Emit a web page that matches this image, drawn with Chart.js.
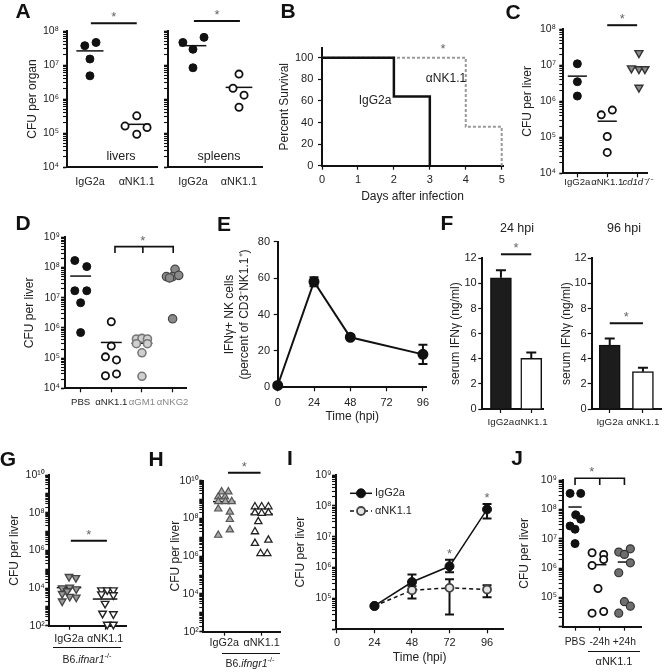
<!DOCTYPE html>
<html>
<head>
<meta charset="utf-8">
<script src="https://cdn.jsdelivr.net/npm/chart.js@4.4.1/dist/chart.umd.min.js"></script>
<style>
  body { margin: 0; background: #fff; }
  #fig { position: relative; width: 670px; height: 672px; overflow: hidden; font-family: "Liberation Sans", Arial, sans-serif; color: #222; }
  #fig canvas { position: absolute; }
  .lbl { position: absolute; transform: translate(-50%, -50%); white-space: nowrap; font-size: 12px; }
  .pl { position: absolute; transform: translate(-50%, -50%); font-weight: bold; font-size: 21px; color: #111; }
  .grp { position: absolute; border-top: 1.3px solid #111; height: 0; }
  sup { font-size: 70%; }
</style>
</head>
<body>
<div id="fig"></div>
<script>
// ===== Data =====
// A: CFU per organ, livers / spleens
const aCats = ['IgG2a', 'αNK1.1'];
const aLiverIgG = [3.7e7, 4.6e7, 1.5e7, 4.8e6];
const aLiverIgGDx = [-0.11, 0.13, 0, 0];
const aLiverNK = [1.6e5, 3.2e5, 9.2e4, 1.45e5];
const aLiverNKDx = [-0.25, 0, 0, 0.22];
const aLiverMed = [2.6e7, 1.8e5];
const aSpleenIgG = [4.6e7, 2.9e7, 6.5e7, 8.3e6];
const aSpleenIgGDx = [-0.22, 0, 0.24, 0];
const aSpleenNK = [5.4e6, 2.07e6, 1.3e6, 5.7e5];
const aSpleenNKDx = [0, -0.13, 0.11, 0];
const aSpleenMed = [3.7e7, 2.2e6];
const aExps = [4, 5, 6, 7, 8];

// B: survival
const bDayTicks = [0, 1, 2, 3, 4, 5];
const bPctTicks = [0, 20, 40, 60, 80, 100];
const bIgGDays = [0, 2, 3];
const bIgG = [100, 64, 0];
const bNKDays = [0, 4, 5];
const bNK = [100, 36, 0];

// C
const cCats = ['IgG2a', 'αNK1.1', 'cd1d⁻/⁻'];
const cIgG = [1.1e7, 3.5e6, 1.4e6];
const cNK = [4.2e5, 5.7e5, 1.05e5, 3.8e4];
const cNKDx = [-0.2, 0.17, 0, 0];
const cKO = [2.2e7, 8.3e6, 7.9e6, 7.9e6, 2.4e6];
const cKODx = [0.06, -0.19, 0.06, 0.26, 0.06];
const cMed = [5e6, 2.8e5, null];
const cExps = [4, 5, 6, 7, 8];

// D
const dCats = ['PBS', 'αNK1.1', 'αGM1', 'αNKG2'];
const dPBS = [1.7e8, 1.07e8, 1.7e7, 1.7e7, 6.8e6, 7e5];
const dPBSDx = [-0.19, 0.2, -0.19, 0.2, 0, 0];
const dNK = [1.6e6, 2.5e5, 1.1e5, 8.7e4, 2.6e4, 3e4];
const dNKDx = [0, 0, -0.19, 0.17, -0.19, 0.17];
const dGM1 = [4.3e5, 4.5e5, 4.3e5, 3e5, 3e5, 1.5e5, 2.5e4];
const dGM1Dx = [-0.18, 0, 0.18, -0.18, 0.18, 0, 0];
const dNKG2 = [8.7e7, 5e7, 5e7, 5.5e7, 4.5e7, 2e6];
const dNKG2Dx = [0.08, -0.2, 0, 0.2, -0.1, 0];
const dMed = [5.2e7, 3.3e5, 3.1e5, 5e7];
const dExps = [4, 5, 6, 7, 8, 9];

// E: IFNg+ NK cells over time
const eTimes = [0, 24, 48, 96];
const eVals = [1, 58, 27.5, 18.1];
const eErr = [0, 2.5, 1.1, 5.3];
const eXTicks = [0, 24, 48, 72, 96];
const eYTicks = [0, 20, 40, 60, 80];

// F: serum IFNg
const fCats = ['IgG2a', 'αNK1.1'];
const f24 = [10.45, 4.03];
const f24Err = [0.6, 0.47];
const f96 = [5.09, 2.97];
const f96Err = [0.53, 0.32];
const fYTicks = [0, 2, 4, 6, 8, 10, 12];

// G: B6.ifnar1-/-
const gCats = ['IgG2a', 'αNK1.1'];
const gIgG = [4e4, 3.5e4, 1e4, 1.1e4, 8.9e3, 5e3, 3.5e3, 3.2e3, 2e3, 7e3];
const gIgGDx = [0, 0.19, -0.19, 0.02, 0.2, -0.19, 0.02, 0.2, -0.19, -0.05];
const gNK = [7.8e3, 7.8e3, 7.8e3, 4.8e3, 4.3e3, 1.5e3, 450, 420, 117, 117];
const gNKDx = [-0.1, 0.06, 0.23, -0.1, 0.23, 0, -0.07, 0.23, 0.06, 0.23];
const gMed = [1.05e4, 2.6e3];
const gExps = [2, 4, 6, 8, 10];

// H: B6.ifngr1-/-
const hIgG = [2.6e9, 2.6e9, 1.4e9, 1.4e9, 7.9e8, 7.9e8, 7.9e8, 3.2e8, 2.2e8, 8.9e7, 1.3e7, 2.5e7];
const hIgGDx = [-0.07, 0.11, -0.16, 0.02, -0.16, 0.03, 0.2, -0.16, 0.15, 0.15, -0.16, 0.15];
const hNK = [4.2e8, 4.2e8, 4.2e8, 2e8, 2e8, 1.9e8, 6.8e7, 2e7, 7.2e6, 4.8e6, 1.4e6, 1.4e6];
const hNKDx = [-0.18, 0, 0.18, -0.18, 0.18, 0, -0.09, -0.18, 0.18, -0.18, -0.03, 0.15];
const hMed = [7.8e8, 1.7e8];

// I: CFU over time
const iTimes = [24, 48, 72, 96];
const iIgG = [5.7e4, 3.4e5, 1.1e6, 7.7e7];
const iIgGLo = [null, 2e5, 7e5, 3.9e7];
const iIgGHi = [null, 6e5, 1.8e6, 1.15e8];
const iNK = [5.7e4, 1.85e5, 2.2e5, 1.95e5];
const iNKLo = [null, 1e5, 3e4, 1.1e5];
const iNKHi = [null, 2.5e5, 4.2e5, 2.7e5];
const iXTicks = [0, 24, 48, 72, 96];
const iExps = [5, 6, 7, 8, 9];

// J
const jCats = ['PBS', '-24h', '+24h'];
const jPBS = [3.5e8, 3.5e8, 6.5e7, 4.6e7, 2.7e7, 2.1e7, 6.8e6];
const jPBSDx = [-0.2, 0.23, 0.03, 0.23, -0.2, 0, 0];
const jPre = [3.3e6, 2.9e6, 1.95e6, 1.23e6, 2e5, 2.9e4, 3.3e4];
const jPreDx = [-0.31, 0.16, 0.16, -0.31, -0.07, -0.31, 0.16];
const jPost = [3.5e6, 2.9e6, 4.5e6, 1.5e6, 6.9e5, 7.1e4, 5e4, 2.9e4];
const jPostDx = [-0.23, 0, 0.24, 0.24, -0.23, 0, 0.24, -0.23];
const jMed = [1.2e8, 1.3e6, 1.6e6];
const jExps = [5, 6, 7, 8, 9];

// ===== Helpers =====
const FONT = '"Liberation Sans", Arial, sans-serif';
Chart.defaults.font.family = FONT;
Chart.defaults.font.size = 10.8;
Chart.defaults.color = '#222';

const SUP = '⁰¹²³⁴⁵⁶⁷⁸⁹';
const sup = n => String(n).split('').map(d => SUP[+d]).join('');
const isPow10 = v => Math.abs(Math.log10(v) - Math.round(Math.log10(v))) < 1e-6;
const fig = document.getElementById('fig');

function logTicks(lo, hi) {
    const t = [];
    for (let e = lo; e < hi; e++) for (let m = 1; m < 10; m++) t.push({ value: m * Math.pow(10, e) });
    t.push({ value: Math.pow(10, hi) });
    return t;
}
function logY(lo, hi, exps) {
    return {
        type: 'logarithmic', min: Math.pow(10, lo), max: Math.pow(10, hi),
        afterBuildTicks: s => { s.ticks = logTicks(lo, hi); },
        grid: { tickWidth: c => (c.tick && isPow10(c.tick.value)) ? 1.6 : 1.1 },
        ticks: { font: { size: 10.5 }, callback: v => (isPow10(v) && exps.includes(Math.round(Math.log10(v)))) ? '10' + sup(Math.round(Math.log10(v))) : '' }
    };
}
function catX(cats, min, max, tickOpts) {
    return {
        type: 'linear', min, max, offset: false,
        afterBuildTicks: s => { s.ticks = cats.map((c, i) => ({ value: i + 1 })); },
        ticks: Object.assign({ callback: (v, i) => cats[i] }, tickOpts)
    };
}
function linAxis(vals, min, max) {
    return {
        type: 'linear', min, max, offset: false,
        afterBuildTicks: s => { s.ticks = vals.map(v => ({ value: v })); },
        ticks: { font: { size: 11 }, callback: v => String(v) }
    };
}
const pts = (vals, cat, dx) => vals.map((v, i) => ({ x: cat + (dx ? dx[i] : 0), y: v }));
const BLACK = { pointBackgroundColor: '#111', pointBorderColor: '#111', pointBorderWidth: 1, pointRadius: 4 };
const OPEN = { pointBackgroundColor: '#fff', pointBorderColor: '#111', pointBorderWidth: 1.8, pointRadius: 3.6 };
const dot = (data, style, extra) => Object.assign({ data, clip: false }, style, extra);

function star(ctx, x, y) {
    ctx.save();
    ctx.fillStyle = '#666'; ctx.font = '13px ' + FONT;
    ctx.textAlign = 'center'; ctx.textBaseline = 'alphabetic';
    ctx.fillText('*', x, y - 2);
    ctx.restore();
}

// medians, error bars, significance bars, stars and legend
const EXTRAS = {};
const extras = {
    id: 'extras',
    beforeDatasetsDraw(chart) {
        const ex = EXTRAS[chart.canvas.id]; if (!ex) return;
        const { ctx } = chart, xs = chart.scales.x, ys = chart.scales.y;
        ctx.save();
        ctx.strokeStyle = '#111';
        (ex.medians || []).forEach((m, i) => {
            if (m == null) return;
            const py = ys.getPixelForValue(m);
            ctx.lineWidth = 1.5;
            ctx.beginPath();
            ctx.moveTo(xs.getPixelForValue(i + 1 - ex.medW), py);
            ctx.lineTo(xs.getPixelForValue(i + 1 + ex.medW), py);
            ctx.stroke();
        });
        (ex.errs || []).forEach(e => {
            e.x.forEach((xv, i) => {
                if (e.lo[i] == null) return;
                const px = xs.getPixelForValue(xv), p0 = ys.getPixelForValue(e.lo[i]), p1 = ys.getPixelForValue(e.hi[i]);
                ctx.lineWidth = 2;
                ctx.beginPath();
                ctx.moveTo(px, p0); ctx.lineTo(px, p1);
                ctx.moveTo(px - e.cap, p1); ctx.lineTo(px + e.cap, p1);
                if (!e.topOnly) { ctx.moveTo(px - e.cap, p0); ctx.lineTo(px + e.cap, p0); }
                ctx.stroke();
            });
        });
        ctx.restore();
    },
    afterDatasetsDraw(chart) {
        const ex = EXTRAS[chart.canvas.id]; if (!ex) return;
        const { ctx } = chart, xs = chart.scales.x, ys = chart.scales.y;
        ctx.save();
        ctx.strokeStyle = '#111'; ctx.lineWidth = 2;
        (ex.sig || []).forEach(s => {
            const py = ys.getPixelForValue(s.y), pa = xs.getPixelForValue(s.a), pb = xs.getPixelForValue(s.b);
            ctx.beginPath(); ctx.moveTo(pa, py); ctx.lineTo(pb, py); ctx.stroke();
            star(ctx, (pa + pb) / 2, py);
        });
        if (ex.bracket) {
            const k = ex.bracket, py = ys.getPixelForValue(k.y), py2 = ys.getPixelForValue(k.y2);
            const [pa, pm, pb] = [k.a, k.m, k.b].map(v => xs.getPixelForValue(v));
            ctx.lineWidth = 1.6;
            ctx.beginPath();
            ctx.moveTo(pa, py2); ctx.lineTo(pa, py); ctx.lineTo(pb, py); ctx.lineTo(pb, py2);
            ctx.moveTo(pm, py); ctx.lineTo(pm, py2);
            ctx.stroke();
            star(ctx, xs.getPixelForValue(k.sx), py);
        }
        (ex.stars || []).forEach(s => star(ctx, xs.getPixelForValue(s.x), ys.getPixelForValue(s.y)));
        if (ex.legend) {
            const L = ex.legend, ox = ex.box[0], oy = ex.box[1];
            L.rows.forEach((row, k) => {
                const ds = chart.data.datasets[k], x0 = L.x - ox, y0 = row - oy;
                ctx.setLineDash(ds.borderDash || []);
                ctx.lineWidth = ds.borderWidth; ctx.strokeStyle = ds.borderColor;
                ctx.beginPath(); ctx.moveTo(x0, y0); ctx.lineTo(x0 + 22, y0); ctx.stroke();
                ctx.setLineDash([]);
                ctx.beginPath(); ctx.arc(x0 + 11, y0, ds.pointRadius, 0, Math.PI * 2);
                ctx.fillStyle = ds.pointBackgroundColor; ctx.fill();
                ctx.lineWidth = ds.pointBorderWidth; ctx.strokeStyle = ds.pointBorderColor; ctx.stroke();
                ctx.fillStyle = '#222'; ctx.font = '11px ' + FONT;
                ctx.textBaseline = 'middle'; ctx.textAlign = 'left';
                ctx.fillText(ds.label, x0 + 25, y0);
            });
        }
        ctx.restore();
    }
};

// one chart per canvas; box = canvas in page px, area = plot area in page px
function mk(s) {
    const [x0, y0, x1, y1] = s.box, [l, t, r, b] = s.area;
    const cv = document.createElement('canvas');
    cv.id = s.id; cv.width = x1 - x0; cv.height = y1 - y0;
    cv.style.left = x0 + 'px'; cv.style.top = y0 + 'px';
    fig.appendChild(cv);
    EXTRAS[s.id] = Object.assign({ box: s.box }, s.ex);
    const tly = 4, tlx = s.xTicks === false ? 0 : 4;

    const y = Object.assign({}, s.y, {
        border: { color: '#111', width: 2 },
        grid: Object.assign({ drawOnChartArea: false, drawTicks: true, tickLength: tly, color: '#111', tickWidth: 1.2 }, s.y.grid),
        ticks: Object.assign({ autoSkip: false, padding: s.ylabR ? Math.max(0.5, l - tly - s.ylabR) : 3 }, s.y.ticks),
        title: s.ytitle ? { display: true, text: s.ytitle, color: '#222', font: { size: 12 }, padding: { top: s.ytitleX - x0 - 7.2, bottom: 0 } } : { display: false },
        afterFit: sc => { sc.width = l - x0; }
    });
    const x = Object.assign({}, s.x, {
        border: { color: '#111', width: 2 },
        grid: Object.assign({ display: tlx > 0, drawOnChartArea: false, drawTicks: tlx > 0, tickLength: tlx, color: '#111', tickWidth: 1.2, offset: false }, s.x.grid),
        ticks: Object.assign({ autoSkip: false, maxRotation: 0, minRotation: 0, padding: s.xlabY - b - tlx - 6.5 }, s.x.ticks),
        title: s.xtitle ? { display: true, text: s.xtitle, color: '#222', font: { size: 12 }, padding: { top: 0, bottom: y1 - s.xtitleY - 7.2 } } : { display: false },
        afterFit: sc => { sc.height = y1 - b; }
    });
    return new Chart(cv, {
        type: s.type || 'scatter',
        data: { datasets: s.datasets },
        options: {
            responsive: false, animation: false, devicePixelRatio: 1,
            layout: { padding: { left: 0, top: t - y0, right: x1 - r, bottom: 0 } },
            plugins: { legend: { display: false }, tooltip: { enabled: false } },
            scales: { x, y }
        },
        plugins: [extras]
    });
}

// ===== Panel A =====
mk({
    id: 'aLiver', box: [0, 0, 165, 200], area: [67, 31, 158, 167],
    y: logY(4, 8, aExps), ytitle: 'CFU per organ', ytitleX: 33, ylabR: 59,
    x: catX(aCats, 0.51, 2.45), xTicks: false, xlabY: 182,
    datasets: [dot(pts(aLiverIgG, 1, aLiverIgGDx), BLACK), dot(pts(aLiverNK, 2, aLiverNKDx), OPEN)],
    ex: { medians: aLiverMed, medW: 0.29, sig: [{ a: 1.02, b: 2, y: 1.7e8 }] }
});
mk({
    id: 'aSpleen', box: [160, 0, 270, 200], area: [168, 31, 262, 167],
    y: logY(4, 8, []),
    x: catX(aCats, 0.457, 2.5), xTicks: false, xlabY: 182,
    datasets: [dot(pts(aSpleenIgG, 1, aSpleenIgGDx), BLACK), dot(pts(aSpleenNK, 2, aSpleenNKDx), OPEN)],
    ex: { medians: aSpleenMed, medW: 0.29, sig: [{ a: 1.02, b: 2.02, y: 1.96e8 }] }
});

// ===== Panel B =====
mk({
    id: 'b', type: 'line', box: [270, 30, 520, 210], area: [322, 47.7, 503, 165.7],
    y: linAxis(bPctTicks, 0, 109.3), ytitle: 'Percent Survival', ytitleX: 285, ylabR: 313.3,
    x: linAxis(bDayTicks, 0, 5.036), xlabY: 180, xtitle: 'Days after infection', xtitleY: 196.7,
    datasets: [
        { data: bIgGDays.map((d, i) => ({ x: d, y: bIgG[i] })), stepped: 'before', borderColor: '#111', borderWidth: 2.5, pointRadius: 0, clip: false },
        { data: bNKDays.map((d, i) => ({ x: d, y: bNK[i] })), stepped: 'before', borderColor: '#9a9a9a', borderWidth: 2, borderDash: [3, 2], pointRadius: 0, clip: false }
    ]
});

// ===== Panel C =====
mk({
    id: 'c', box: [515, 0, 670, 200], area: [563.3, 29.3, 647, 173.3],
    y: logY(4, 8, cExps), ytitle: 'CFU per liver', ytitleX: 528, ylabR: 556,
    x: catX(cCats, 0.53, 3.33, { font: c => ({ size: 9.6, style: c.index === 2 ? 'italic' : 'normal' }) }), xlabY: 182.7,
    datasets: [
        dot(pts(cIgG, 1), BLACK),
        dot(pts(cNK, 2, cNKDx), OPEN),
        dot(pts(cKO, 3, cKODx), { pointStyle: 'triangle', pointRotation: 180, pointRadius: 4.6, pointBackgroundColor: '#8c8c8c', pointBorderColor: '#333', pointBorderWidth: 1.4 })
    ],
    ex: { medians: cMed, medW: 0.32, sig: [{ a: 2, b: 3, y: 1.3e8 }] }
});

// ===== Panel D =====
const dLabelColors = ['#222', '#222', '#888', '#888'];
mk({
    id: 'd', box: [0, 215, 200, 420], area: [65, 237.3, 186.7, 388.3],
    y: logY(4, 9, dExps), ytitle: 'CFU per liver', ytitleX: 30, ylabR: 60,
    x: catX(dCats, 0.49, 4.46, { font: { size: 9.6 }, color: c => dLabelColors[c.index] }), xlabY: 402.7,
    datasets: [
        dot(pts(dPBS, 1, dPBSDx), BLACK),
        dot(pts(dNK, 2, dNKDx), OPEN),
        dot(pts(dGM1, 3, dGM1Dx), { pointRadius: 4, pointBackgroundColor: '#cfcfcf', pointBorderColor: '#777', pointBorderWidth: 1.6 }),
        dot(pts(dNKG2, 4, dNKG2Dx), { pointRadius: 4.2, pointBackgroundColor: '#8a8a8a', pointBorderColor: '#444', pointBorderWidth: 1.2 })
    ],
    ex: { medians: dMed, medW: 0.34, bracket: { a: 2.12, m: 3.03, b: 4.02, y: 4.9e8, y2: 3e8, sx: 3.03 } }
});

// ===== Panel E =====
mk({
    id: 'e', type: 'line', box: [220, 215, 440, 430], area: [277.7, 241.7, 426.7, 387.3],
    y: linAxis(eYTicks, 0, 80), ytitle: ['IFNγ+ NK cells', '(percent of CD3⁻NK1.1⁺)'], ytitleX: 230, ylabR: 270,
    x: linAxis(eXTicks, 0, 98.5), xlabY: 402.7, xtitle: 'Time (hpi)', xtitleY: 416.7,
    datasets: [{ data: eTimes.map((t, i) => ({ x: t, y: eVals[i] })), borderColor: '#111', borderWidth: 2, pointRadius: 4.5, pointBackgroundColor: '#111', pointBorderColor: '#111', clip: false }],
    ex: { errs: [{ x: eTimes, lo: eVals.map((v, i) => eErr[i] ? v - eErr[i] : null), hi: eVals.map((v, i) => v + eErr[i]), cap: 4.5 }] }
});

// ===== Panel F =====
const fBarStyle = { backgroundColor: ['#1c1c1c', '#ffffff'], borderColor: '#111', borderWidth: 1.5, barThickness: 21 };
mk({
    id: 'f1', type: 'bar', box: [440, 215, 552, 430], area: [482.3, 258.3, 546.7, 409],
    y: linAxis(fYTicks, 0, 12), ytitle: 'serum IFNγ (ng/ml)', ytitleX: 455.7, ylabR: 476.7,
    x: catX(fCats, 0.386, 2.42, { font: { size: 9.8 } }), xlabY: 422.7,
    datasets: [Object.assign({ data: f24.map((v, i) => ({ x: i + 1, y: v })) }, fBarStyle)],
    ex: { errs: [{ x: [1, 2], lo: f24, hi: f24.map((v, i) => v + f24Err[i]), cap: 5, topOnly: true }], sig: [{ a: 1, b: 2, y: 12.32 }] }
});
mk({
    id: 'f2', type: 'bar', box: [552, 215, 670, 430], area: [591.7, 258.3, 661.7, 409],
    y: linAxis(fYTicks, 0, 12), ytitle: 'serum IFNγ (ng/ml)', ytitleX: 566.7, ylabR: 586.7,
    x: catX(fCats, 0.457, 2.565, { font: { size: 9.8 } }), xlabY: 422.7,
    datasets: [Object.assign({ data: f96.map((v, i) => ({ x: i + 1, y: v })) }, fBarStyle)],
    ex: { errs: [{ x: [1, 2], lo: f96, hi: f96.map((v, i) => v + f96Err[i]), cap: 5, topOnly: true }], sig: [{ a: 1, b: 2, y: 6.82 }] }
});

// ===== Panel G =====
const TRI_DOWN_GRAY = { pointStyle: 'triangle', pointRotation: 180, pointRadius: 4.4, pointBackgroundColor: '#9a9a9a', pointBorderColor: '#444', pointBorderWidth: 1.3 };
const TRI_DOWN_OPEN = { pointStyle: 'triangle', pointRotation: 180, pointRadius: 4.4, pointBackgroundColor: '#fff', pointBorderColor: '#222', pointBorderWidth: 1.4 };
mk({
    id: 'g', box: [0, 460, 140, 672], area: [49.3, 475, 126, 625.7],
    y: logY(2, 10, gExps), ytitle: 'CFU per liver', ytitleX: 15, ylabR: 45,
    x: catX(gCats, 0.453, 2.58), xlabY: 639.3,
    datasets: [dot(pts(gIgG, 1, gIgGDx), TRI_DOWN_GRAY), dot(pts(gNK, 2, gNKDx), TRI_DOWN_OPEN)],
    ex: { medians: gMed, medW: 0.34, sig: [{ a: 1.05, b: 2.05, y: 3.2e6 }] }
});

// ===== Panel H =====
mk({
    id: 'h', box: [160, 460, 290, 672], area: [203.3, 480.7, 280, 631.7],
    y: logY(2, 10, gExps), ytitle: 'CFU per liver', ytitleX: 176, ylabR: 200,
    x: catX(gCats, 0.44, 2.49), xlabY: 643.3,
    datasets: [
        dot(pts(hIgG, 1, hIgGDx), { pointStyle: 'triangle', pointRadius: 4.2, pointBackgroundColor: '#a8a8a8', pointBorderColor: '#555', pointBorderWidth: 1.2 }),
        dot(pts(hNK, 2, hNKDx), { pointStyle: 'triangle', pointRadius: 4.2, pointBackgroundColor: '#fff', pointBorderColor: '#222', pointBorderWidth: 1.3 })
    ],
    ex: { medians: hMed, medW: 0.3, sig: [{ a: 1.1, b: 1.97, y: 2.6e10 }] }
});

// ===== Panel I =====
mk({
    id: 'i', type: 'line', box: [290, 460, 515, 672], area: [336, 475, 503.3, 629.3],
    y: logY(4, 9, iExps), ytitle: 'CFU per liver', ytitleX: 301, ylabR: 333,
    x: linAxis(iXTicks, -0.6, 106.4), xlabY: 642.7, xtitle: 'Time (hpi)', xtitleY: 657.3,
    datasets: [
        { label: 'IgG2a', data: iTimes.map((t, i) => ({ x: t, y: iIgG[i] })), borderColor: '#111', borderWidth: 1.5, pointRadius: 4.5, pointBackgroundColor: '#111', pointBorderColor: '#111', pointBorderWidth: 1, clip: false },
        { label: 'αNK1.1', data: iTimes.map((t, i) => ({ x: t, y: iNK[i] })), borderColor: '#111', borderWidth: 1.5, borderDash: [4, 3], pointRadius: 4, pointBackgroundColor: '#e4e4e4', pointBorderColor: '#444', pointBorderWidth: 1.8, clip: false }
    ],
    ex: {
        errs: [
            { x: iTimes, lo: iIgGLo, hi: iIgGHi, cap: 4.5 },
            { x: iTimes, lo: iNKLo, hi: iNKHi, cap: 4.5 }
        ],
        stars: [{ x: 72, y: 1.8e6 }, { x: 96, y: 1.15e8 }],
        legend: { x: 350, rows: [493.3, 511] }
    }
});

// ===== Panel J =====
mk({
    id: 'j', box: [515, 460, 670, 672], area: [562.7, 480, 641.7, 626.7],
    y: logY(4, 9, jExps), ytitle: 'CFU per liver', ytitleX: 525, ylabR: 557,
    x: catX(jCats, 0.5, 3.7, { font: { size: 10.3 } }), xlabY: 642.7,
    datasets: [
        dot(pts(jPBS, 1, jPBSDx), BLACK),
        dot(pts(jPre, 2, jPreDx), OPEN),
        dot(pts(jPost, 3, jPostDx), { pointRadius: 4, pointBackgroundColor: '#6e6e6e', pointBorderColor: '#333', pointBorderWidth: 1.2 })
    ],
    ex: { medians: jMed, medW: 0.27, bracket: { a: 1, m: 2, b: 3, y: 1.15e9, y2: 6.8e8, sx: 1.68 } }
});

// ===== Text overlays =====
function txt(html, x, y, style) {
    const d = document.createElement('div');
    d.className = 'lbl'; d.innerHTML = html;
    d.style.left = x + 'px'; d.style.top = y + 'px';
    if (style) d.style.cssText += style;
    fig.appendChild(d);
}
function letter(t, x, y) {
    const d = document.createElement('div');
    d.className = 'pl'; d.textContent = t;
    d.style.left = x + 'px'; d.style.top = y + 'px';
    fig.appendChild(d);
}
function groupLine(x0, x1, y) {
    const d = document.createElement('div');
    d.className = 'grp';
    d.style.left = x0 + 'px'; d.style.top = y + 'px'; d.style.width = (x1 - x0) + 'px';
    fig.appendChild(d);
}

[['A', 23, 11], ['B', 288, 11], ['C', 513, 12], ['D', 23, 223], ['E', 224, 224], ['F', 447, 223],
 ['G', 8, 459], ['H', 156, 459], ['I', 290, 458], ['J', 517, 458]].forEach(p => letter(...p));

txt('livers', 121, 156, 'font-size:12.5px');
txt('spleens', 219, 156, 'font-size:12.5px');
txt('*', 443, 48, 'font-size:13px;color:#666');
txt('αNK1.1', 446, 78);
txt('IgG2a', 375, 100);
txt('24 hpi', 517, 228, 'font-size:12.5px');
txt('96 hpi', 624, 228, 'font-size:12.5px');

groupLine(53, 121, 647);
txt('B6.<i>ifnar1</i><sup>-/-</sup>', 87, 658, 'font-size:10.5px');
groupLine(222, 280, 652.5);
txt('B6.<i>ifngr1</i><sup>-/-</sup>', 250, 662, 'font-size:10.5px');
groupLine(588, 640, 651);
txt('αNK1.1', 614, 661, 'font-size:11px');
</script>
</body>
</html>
